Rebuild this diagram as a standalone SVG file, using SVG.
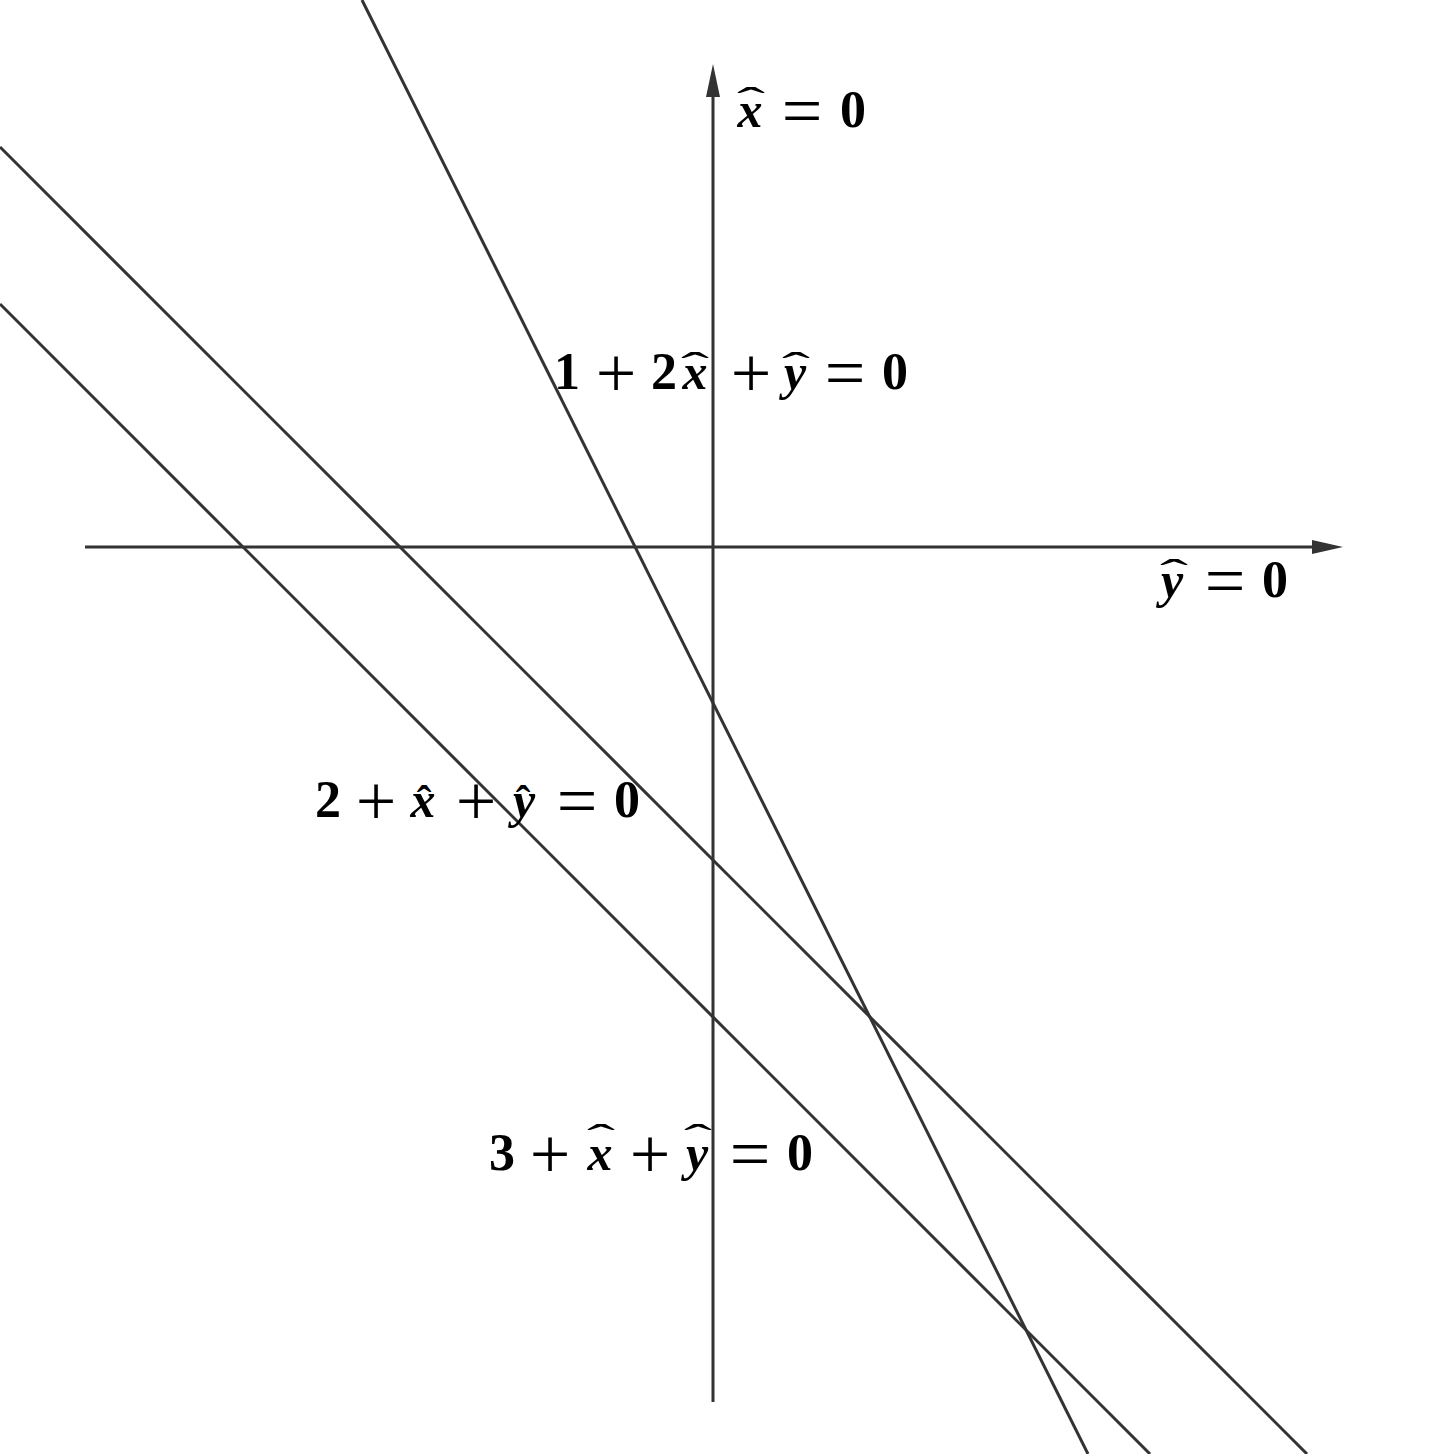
<svg xmlns="http://www.w3.org/2000/svg" width="1432" height="1454" viewBox="0 0 1432 1454">
<defs>
<style>
.ln{stroke:#333;stroke-width:3;fill:none}
.t{font-family:"Liberation Serif",serif;font-weight:bold;font-size:52px;fill:#000;text-anchor:middle}
.v{font-style:italic;font-size:50px}
.o{font-weight:normal;font-size:72px}
.h{font-family:"Liberation Serif",serif;font-size:40px;fill:#000;text-anchor:middle}
.hs{font-family:"Liberation Serif",serif;font-weight:bold;font-size:44px;fill:#000;text-anchor:middle}
</style>
</defs>
<rect width="1432" height="1454" fill="#fff"/>
<g id="connectors">
<line class="ln" x1="362" y1="0" x2="1088" y2="1454"/>
<line class="ln" x1="0" y1="147" x2="1307" y2="1454"/>
<line class="ln" x1="0" y1="304" x2="1150" y2="1454"/>
</g>
<g id="axis-y-hat">
<line class="ln" x1="85" y1="547" x2="1315" y2="547"/>
<polygon points="1343,547 1312,540 1312,554" fill="#333"/>
</g>
<g id="axis-x-hat">
<line class="ln" x1="713" y1="1402" x2="713" y2="92"/>
<polygon points="713,64 706,97 720,97" fill="#333"/>
</g>
<g id="label-x0">
<text class="t"><tspan class="v" x="750" y="127">x</tspan><tspan class="o" x="802" y="135">=</tspan><tspan x="853" y="127">0</tspan></text>
<text class="h" transform="translate(751,115) scale(2.1,1)">ˆ</text>
</g>
<g id="label-line1">
<text class="t"><tspan x="567" y="389">1</tspan><tspan class="o" x="616" y="397">+</tspan><tspan x="664" y="389">2</tspan><tspan class="v" x="695" y="389">x</tspan><tspan class="o" x="751" y="397">+</tspan><tspan class="v" x="795" y="389">y</tspan><tspan class="o" x="845" y="397">=</tspan><tspan x="895" y="389">0</tspan></text>
<text class="h" transform="translate(695,380) scale(2.1,1)">ˆ</text>
<text class="h" transform="translate(796,380) scale(2.1,1)">ˆ</text>
</g>
<g id="label-y0">
<text class="t"><tspan class="v" x="1172" y="597">y</tspan><tspan class="o" x="1225" y="605">=</tspan><tspan x="1275" y="597">0</tspan></text>
<text class="h" transform="translate(1174,587) scale(2.1,1)">ˆ</text>
</g>
<g id="label-line2">
<text class="t"><tspan x="328" y="817">2</tspan><tspan class="o" x="376" y="825">+</tspan><tspan class="v" x="423" y="817">x</tspan><tspan class="o" x="476" y="825">+</tspan><tspan class="v" x="524" y="817">y</tspan><tspan class="o" x="577" y="825">=</tspan><tspan x="627" y="817">0</tspan></text>
<text class="hs" x="424" y="816">ˆ</text>
<text class="hs" x="523" y="816">ˆ</text>
</g>
<g id="label-line3">
<text class="t"><tspan x="502" y="1170">3</tspan><tspan class="o" x="550" y="1178">+</tspan><tspan class="v" x="600" y="1170">x</tspan><tspan class="o" x="650" y="1178">+</tspan><tspan class="v" x="697" y="1170">y</tspan><tspan class="o" x="750" y="1178">=</tspan><tspan x="800" y="1170">0</tspan></text>
<text class="h" transform="translate(601,1152) scale(2.1,1)">ˆ</text>
<text class="h" transform="translate(698,1152) scale(2.1,1)">ˆ</text>
</g>
</svg>
